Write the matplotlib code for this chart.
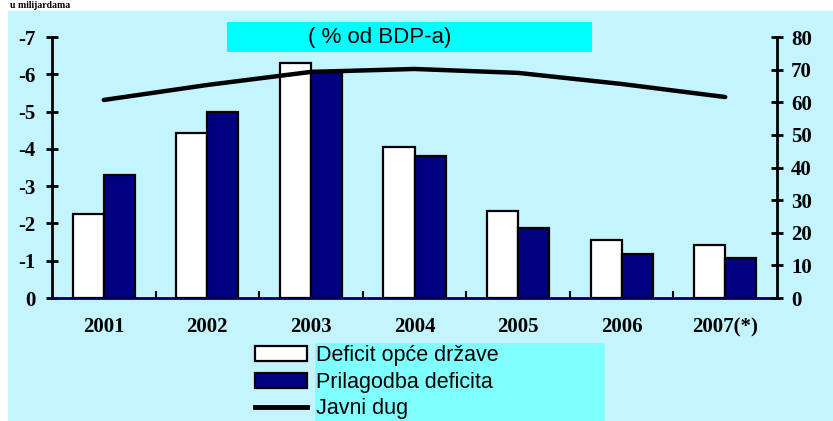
import matplotlib
matplotlib.use("Agg")
import matplotlib.pyplot as plt
from matplotlib.patches import Rectangle, Patch
from matplotlib.lines import Line2D
import numpy as np

years = ['2001', '2002', '2003', '2004', '2005', '2006', '2007(*)']
deficit = [-2.25, -4.42, -6.3, -4.05, -2.33, -1.55, -1.42]      # Deficit opće države
prilagodba = [-3.3, -4.98, -6.1, -3.8, -1.88, -1.18, -1.07]    # Prilagodba deficita
javni_dug = [60.7, 65.3, 69.3, 70.2, 69.0, 65.6, 61.6]          # Javni dug

left_ticks = [0, -1, -2, -3, -4, -5, -6, -7]
right_ticks = [0, 10, 20, 30, 40, 50, 60, 70, 80]

W, H = 833, 421
fig = plt.figure(figsize=(W / 100, H / 100), dpi=100)
fig.patch.set_facecolor('white')
# light cyan background panel
fig.patches.append(Rectangle((8 / W, 0), 1, (H - 11) / H, transform=fig.transFigure,
                             facecolor='#c4f5ff', edgecolor='none', zorder=-10))
# title box
fig.patches.append(Rectangle((227 / W, 1 - 52 / H), 365 / W, 30 / H, transform=fig.transFigure,
                             facecolor='#00ffff', edgecolor='none', zorder=-5))
fig.text(308 / W, 1 - 37 / H, '( % od BDP-a)', ha='left', va='center',
         fontsize=16, family='Liberation Sans')
# legend box
fig.patches.append(Rectangle((315 / W, 0), 290 / W, (H - 343) / H, transform=fig.transFigure,
                             facecolor='#80ffff', edgecolor='none', zorder=-5))

ax = fig.add_axes([52 / W, 123 / H, 725 / W, 261 / H])
ax.patch.set_alpha(0)
x = np.arange(len(years))
w = 0.30
ax.bar(x - w / 2, deficit, w, color='white', edgecolor='black', linewidth=1.6, zorder=3)
ax.bar(x + w / 2, prilagodba, w, color='#000080', edgecolor='black', linewidth=1.6, zorder=3)
ax.set_ylim(0, -7)
ax.set_xlim(-0.5, len(years) - 0.5)
ax.set_yticks(left_ticks)
ax.set_yticklabels([str(t) for t in left_ticks])
ax.set_xticks(x)
ax.set_xticklabels(years)
ax.set_xticks(np.arange(0.5, len(years) - 0.5), minor=True)
ax.tick_params(axis='x', which='major', length=0, pad=14)
ax.tick_params(axis='x', which='minor', direction='in', length=5, width=1.5, color='black')
ax.tick_params(axis='y', direction='inout', length=8, width=2, pad=8)
ax.spines['top'].set_visible(False)
ax.spines['right'].set_visible(False)
ax.spines['left'].set_linewidth(2)
ax.spines['bottom'].set_linewidth(2)
ax.spines['bottom'].set_color('#000060')

ax2 = ax.twinx()
ax2.plot(x, javni_dug, color='black', linewidth=3.2, solid_capstyle='round', zorder=5)
ax2.set_ylim(0, 80)
ax2.set_yticks(right_ticks)
ax2.tick_params(axis='y', direction='inout', length=8, width=2, pad=6)
for s in ['top', 'left', 'bottom']:
    ax2.spines[s].set_visible(False)
ax2.spines['right'].set_linewidth(2)

for lab in ax.get_xticklabels() + ax.get_yticklabels() + ax2.get_yticklabels():
    lab.set_family('Liberation Serif')
    lab.set_fontweight('bold')
    lab.set_fontsize(15)

fig.text(10 / W, 1 - 1 / H, 'u milijardama', ha='left', va='top',
         fontsize=7, family='Liberation Serif', fontweight='bold')

handles = [Patch(facecolor='white', edgecolor='black', linewidth=1.6),
           Patch(facecolor='#000080', edgecolor='black', linewidth=1.6),
           Line2D([0], [0], color='black', linewidth=3.5)]
labels = ['Deficit opće države', 'Prilagodba deficita', 'Javni dug']
fig.legend(handles, labels, loc='upper left', bbox_to_anchor=(255 / W, 1 - 345 / H),
           frameon=False, borderpad=0, borderaxespad=0, handlelength=2.4, handleheight=0.7,
           handletextpad=0.45, labelspacing=0.26,
           prop={'family': 'Liberation Sans', 'size': 15.5})

fig.savefig('out.png', dpi=100)
